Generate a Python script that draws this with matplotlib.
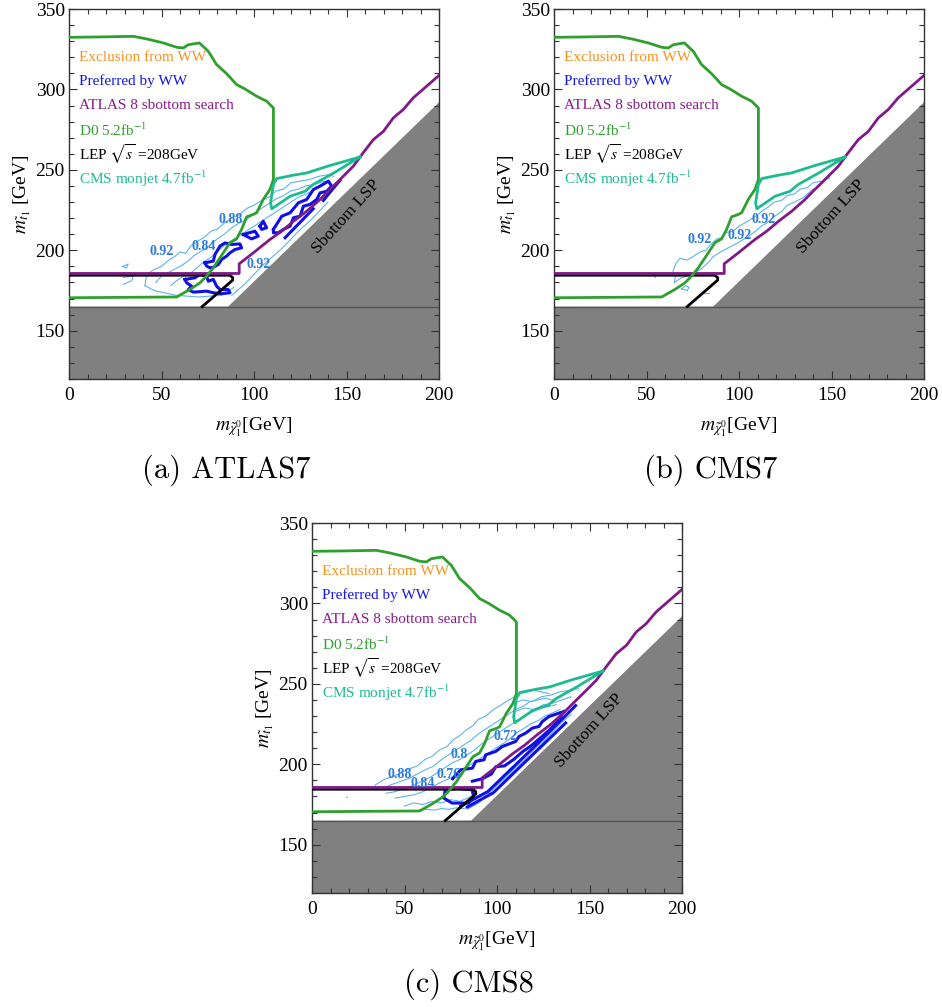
import numpy as np
import matplotlib
matplotlib.use("Agg")
import matplotlib.pyplot as plt

plt.rcParams["font.family"] = ["Liberation Serif", "DejaVu Serif"]
plt.rcParams["mathtext.fontset"] = "stix"

# ---- shared curves (GeV) ----
sbottom_x = [0, 86, 200, 200, 0]
sbottom_y = [165, 165, 292, 120, 120]

atlas8_x = [0, 92, 92, 99.6, 108.6, 115, 121.3, 128.5, 135.7, 141, 146.5, 153.7, 159, 164.5, 170, 175.3, 180.7, 186, 193.3, 200.5]
atlas8_y = [185.6, 185.6, 191.6, 198.4, 206.7, 211.9, 218, 224.3, 231.6, 237.8, 244, 252.3, 260.6, 268.8, 274, 282.3, 287.5, 294.7, 302, 309.2]

lep_x = [0, 87, 88.5, 88.5, 72]
lep_y = [184.5, 184.5, 183, 181.5, 165]

d0_x = [0, 15, 34.8, 42, 51, 58.2, 61.8, 64.5, 70.5, 75.3, 79.8, 85.2, 90.6, 95.1, 101.4, 106.8, 110.5,
        110.5, 108.6, 105, 101.4, 99.6, 96, 93.3, 90.6, 87, 85.2, 81.6, 78, 74.4, 70.8, 65.4, 58.2, 0]
d0_y = [332.4, 332.6, 333, 331.4, 328.9, 326.2, 325.8, 327.8, 328.9, 323.7, 315.4, 309.8, 303, 300.3, 295.8, 292.7, 288.5,
        244, 237.8, 231.6, 223.3, 222.3, 220.8, 213, 207.1, 204.7, 201.6, 195.3, 189.1, 184, 179.8, 175.7, 171, 170.5]

monojet_x = [157.3, 141, 128.5, 121.3, 112.3, 110.5, 109, 109.6, 119.5, 127.6, 132, 143, 157.3]
monojet_y = [258, 252.7, 248.1, 246.7, 244.6, 240.9, 229.5, 225.8, 233.6, 236.7, 240.9, 248, 258]

legend_labels = ["Exclusion from WW", "Preferred by WW", "ATLAS 8 sbottom search",
                 r"D0 5.2fb$^{-1}$", r"LEP $\sqrt{s}$ =208GeV", r"CMS monjet 4.7fb$^{-1}$"]
legend_colors = ["#f7931e", "#1515f0", "#8a1a8a", "#2fa02f", "#000000", "#1dbb8f"]

# ---- panel (a) ATLAS7 ----
a_light = [
    ([41, 42, 46, 50, 54, 57, 60, 63, 66, 70, 73, 77, 80, 84, 88, 92, 96, 100, 104, 108, 112, 116, 120, 125, 130, 135, 140, 143],
     [178, 185, 188, 190, 194, 196, 199, 198, 203, 206, 208, 212, 213, 217, 220, 222, 226, 228, 231, 233, 237, 238, 242, 243, 244, 246, 247, 246]),
    ([47, 50, 55, 60, 64, 68, 72, 76, 80, 84, 88, 92, 96, 100, 104, 108, 112, 116, 120, 124, 128, 133, 138],
     [180, 184, 187, 190, 193, 197, 200, 203, 207, 210, 214, 217, 219, 223, 226, 229, 232, 234, 237, 238, 240, 241, 243]),
    ([55, 58, 62, 66, 70, 73, 76, 80, 84, 88, 92, 96, 100, 104, 108, 112, 116, 120, 124, 128, 132],
     [178, 181, 184, 186, 190, 193, 195, 199, 203, 206, 209, 212, 215, 218, 221, 224, 227, 230, 233, 235, 237]),
    ([41, 46, 52, 58, 64, 70, 76, 82, 86, 89],
     [178, 175, 173.5, 172, 171.5, 171, 171.5, 172, 174, 177]),
    ([88, 95, 100, 105, 110, 115, 120, 125, 130, 135, 140],
     [172, 179, 185, 191, 196, 201, 207, 213, 218, 224, 230]),
    ([29, 32, 31, 29], [190, 191.5, 189, 190]),
    ([29.4, 34.8, 33.9, 29.4], [183.1, 184.2, 181.1, 178.8]),
]
a_blue = [
    ([73.5, 78, 78.9, 81.6, 84.3, 87.9, 92.4, 93.3, 89.7, 87, 85.2, 82.5, 80.7, 78, 76.2, 74.4, 73.5],
     [192.2, 193.3, 197.4, 202.6, 204.6, 203.6, 204, 201.5, 200.5, 198.4, 196.4, 194.3, 191.2, 189.5, 189.1, 190.2, 192.2]),
    ([62.7, 68.1, 70.8, 74.4, 75.3, 78, 79.8, 81.6, 86.1, 87, 82.5, 78, 74.4, 67.2, 64.5, 66.3, 63.6, 62.7],
     [181.9, 182.9, 185, 183.9, 180.8, 181.9, 177.7, 175.6, 175.6, 173.6, 173, 173.6, 174.6, 174, 175.6, 177.7, 179.8, 181.9]),
    ([94.2, 100.5, 102.3, 98.7, 94.2], [209.8, 211.9, 208.8, 207.1, 209.8]),
    ([103.2, 105, 106.8, 104.1, 103.2], [215, 218.1, 214, 213, 215]),
    ([110.5, 115, 119.5, 124, 128.5, 132.1, 135.7, 140.2, 142, 139.3, 135.7, 133.9, 130.3, 126.7, 124.9, 121.3, 119.5, 115.9, 113.2, 110.5, 110.5],
     [213, 221.2, 223.3, 229.5, 231.6, 237.8, 239.9, 243, 239.9, 236.7, 235.7, 231.6, 228.5, 227.4, 221.2, 220.2, 215, 213, 210.9, 210.9, 213]),
    ([116.8, 132], [207.8, 225.8]),
    ([137.5, 141, 146.5], [231, 236, 243.5]),
]
a_numbers = [("0.92", 50, 199), ("0.84", 73, 202.2), ("0.88", 87.4, 219.2), ("0.92", 102.3, 191.2)]

# ---- panel (b) CMS7 ----
b_light = [
    ([64, 66, 68, 72, 75, 79, 82, 85, 88, 91, 93, 97, 100, 103, 106, 110, 113, 116, 119, 123, 126, 130, 133, 137, 140, 145, 149],
     [186, 192, 195, 194, 196, 199, 200, 204, 207, 208, 211, 212, 215, 217, 219, 222, 225, 227, 230, 231, 234, 235, 238, 239, 242, 243, 245]),
    ([66, 65, 69, 72, 76, 79, 83, 86, 90, 95, 100, 104, 108, 112, 115, 119, 123, 126, 130, 135, 140],
     [186, 180, 183, 184, 186, 188, 192, 196, 199, 202, 205, 208, 211, 215, 217, 221, 224, 228, 230, 233, 238]),
    ([69, 71, 73, 72, 69], [176, 178, 177, 175, 176]),
    ([79, 84], [173.2, 173.2]),
    ([54.4, 54.8], [183, 183.4]),
]
b_blue = []
b_numbers = [("0.92", 78.9, 206.7), ("0.92", 100.2, 209.2), ("0.92", 113.1, 219.1)]

# ---- panel (c) CMS8 ----
c_light = [
    ([34, 38, 42, 47, 52, 57, 61, 65, 69, 73, 76, 80, 83, 87, 90, 94, 98, 101, 105, 108, 112, 116, 120, 124, 128],
     [187, 190, 192, 194, 197, 199, 203, 205, 209, 211, 215, 218, 221, 224, 228, 230, 234, 236, 239, 241, 244, 245, 246, 245, 244]),
    ([38, 42, 47, 52, 57, 62, 66, 70, 74, 78, 82, 86, 90, 94, 98, 102, 106, 110, 114, 118, 122, 126, 130],
     [185, 187, 189, 191, 194, 197, 199, 203, 206, 209, 212, 215, 219, 222, 225, 228, 231, 234, 236, 239, 240, 241, 240]),
    ([40, 45, 50, 55, 60, 64, 68, 72, 76, 80, 84, 88, 92, 96, 100, 104, 108, 112, 116, 120, 124, 128, 132],
     [182, 183, 185, 187, 190, 192, 195, 198, 201, 203, 206, 209, 213, 216, 219, 222, 225, 228, 231, 233, 235, 236, 237]),
    ([45, 50, 55, 60, 65, 70, 74, 78, 82, 86, 90, 94, 98, 102, 106, 110, 114, 118, 122, 126, 130, 134],
     [179, 180, 181, 183, 186, 189, 191, 194, 197, 200, 203, 206, 209, 212, 215, 219, 222, 225, 227, 230, 232, 234]),
    ([50, 55, 60, 65, 70, 75, 80, 84, 88], [174, 176, 175, 177, 176, 178, 177, 179, 181]),
    ([58, 62, 66, 70, 74, 78, 82, 86], [171.5, 172, 171.5, 172.5, 172, 173, 172.5, 174]),
    ([84, 90, 95, 100, 105, 110, 115, 120, 125, 130, 135, 140], [172, 176, 181, 187, 192, 198, 203, 209, 214, 220, 226, 231]),
    ([109, 114, 119, 124, 129, 134, 139, 144], [238, 240, 239, 242, 243, 245, 246, 247]),
    ([110, 115, 120, 125, 130, 135, 140], [233, 235, 234, 237, 238, 240, 242]),
    ([18.8, 19.2], [179.4, 179.6]),
]
c_blue = [
    ([76, 80.4, 86.7, 88.5, 93, 93.9, 99.3, 102.9, 110.1, 111.9, 115.5, 119.1, 122.7, 124.5, 128.1, 133.5, 136.2],
     [191, 196.6, 197.6, 201.8, 202.8, 205.9, 208, 211.1, 214.2, 217.3, 219.4, 222.5, 223.5, 226.6, 229.7, 231.8, 232.8]),
    ([86.7, 92, 97, 99.3, 104, 109, 114, 119, 124, 128, 133, 136.2],
     [189.5, 191, 194, 198.5, 199, 203, 208, 212, 217, 221, 227, 232.8]),
    ([72.1, 79, 86.5, 87.4, 84.7, 75.7, 71.2, 72.1], [184.2, 185, 184.2, 180, 175.9, 175.9, 179, 184.2]),
    ([80.4, 95, 110, 125, 142.5], [174, 183, 199.6, 216.3, 236.5]),
    ([84, 98, 112, 126, 137.1], [173.5, 182.3, 197.9, 213.4, 225.7]),
]
c_numbers = [("0.88", 47.4, 193.5), ("0.84", 60, 188.3), ("0.76", 73.7, 193.5), ("0.8", 79.5, 205.9), ("0.72", 104.7, 217.3)]

LIGHT = "#5fb2ee"
NUM = "#2b7be0"


def draw_panel(ax, light, blue, numbers, caption):
    ax.fill(sbottom_x, sbottom_y, color="#808080", lw=0, zorder=1)
    ax.plot([0, 200], [165, 165], color="#555555", lw=1.0, zorder=2)
    for xs, ys in light:
        ax.plot(xs, ys, color=LIGHT, lw=0.8, zorder=3)
    for xs, ys in blue:
        ax.plot(xs, ys, color="#1010e6", lw=2.2, zorder=4)
    ax.plot(lep_x, lep_y, color="black", lw=2, zorder=5)
    ax.plot(atlas8_x, atlas8_y, color="#7f1a86", lw=2, zorder=6)
    ax.plot(d0_x, d0_y, color="#2fa02f", lw=2, zorder=6)
    ax.plot(monojet_x, monojet_y, color="#1dbb8f", lw=2, zorder=6)
    for txt, x, y in numbers:
        ax.text(x, y, txt, color=NUM, fontsize=10, fontweight="bold", ha="center", va="center", zorder=7)
    for i, (lab, col) in enumerate(zip(legend_labels, legend_colors)):
        ax.text(5.4, 320 - i * 15.1, lab, color=col, fontsize=11, ha="left", va="center", zorder=7)
    ax.text(150, 221, "Sbottom LSP", rotation=48, fontsize=12.5, ha="center", va="center", zorder=7)

    ax.set_xlim(0, 200)
    ax.set_ylim(120, 350)
    ax.set_xticks([0, 50, 100, 150, 200])
    ax.set_yticks([150, 200, 250, 300, 350])
    ax.set_xticks(np.arange(0, 201, 10), minor=True)
    ax.set_yticks(np.arange(120, 351, 10), minor=True)
    ax.tick_params(which="both", direction="in", top=True, right=True, labelsize=14, width=0.8, color="#333333")
    ax.tick_params(which="major", length=6)
    ax.tick_params(which="minor", length=3.5)
    ax.tick_params(axis="x", which="major", pad=6)
    ax.tick_params(axis="y", which="major", pad=3)
    for s in ax.spines.values():
        s.set_linewidth(1.0)
        s.set_color("#333333")
    ax.set_xlabel(r"$m_{\tilde{\chi}_1^0}$[GeV]", fontsize=14, labelpad=8)
    ax.set_ylabel(r"$m_{\tilde{t}_1}$ [GeV]", fontsize=14, labelpad=2)
    ax.text(0.424, -0.246, caption, transform=ax.transAxes, fontsize=22, ha="center", va="center",
            fontfamily="cmr10")


fig = plt.figure(figsize=(9.42, 10.07), dpi=100)
ax_a = fig.add_axes([69 / 942, 1 - 379 / 1007, 370 / 942, 370 / 1007])
ax_b = fig.add_axes([554 / 942, 1 - 379 / 1007, 370 / 942, 370 / 1007])
ax_c = fig.add_axes([312 / 942, 1 - 893 / 1007, 370 / 942, 370 / 1007])

draw_panel(ax_a, a_light, a_blue, a_numbers, "(a) ATLAS7")
draw_panel(ax_b, b_light, b_blue, b_numbers, "(b) CMS7")
draw_panel(ax_c, c_light, c_blue, c_numbers, "(c) CMS8")

fig.savefig("out.png", dpi=100)
